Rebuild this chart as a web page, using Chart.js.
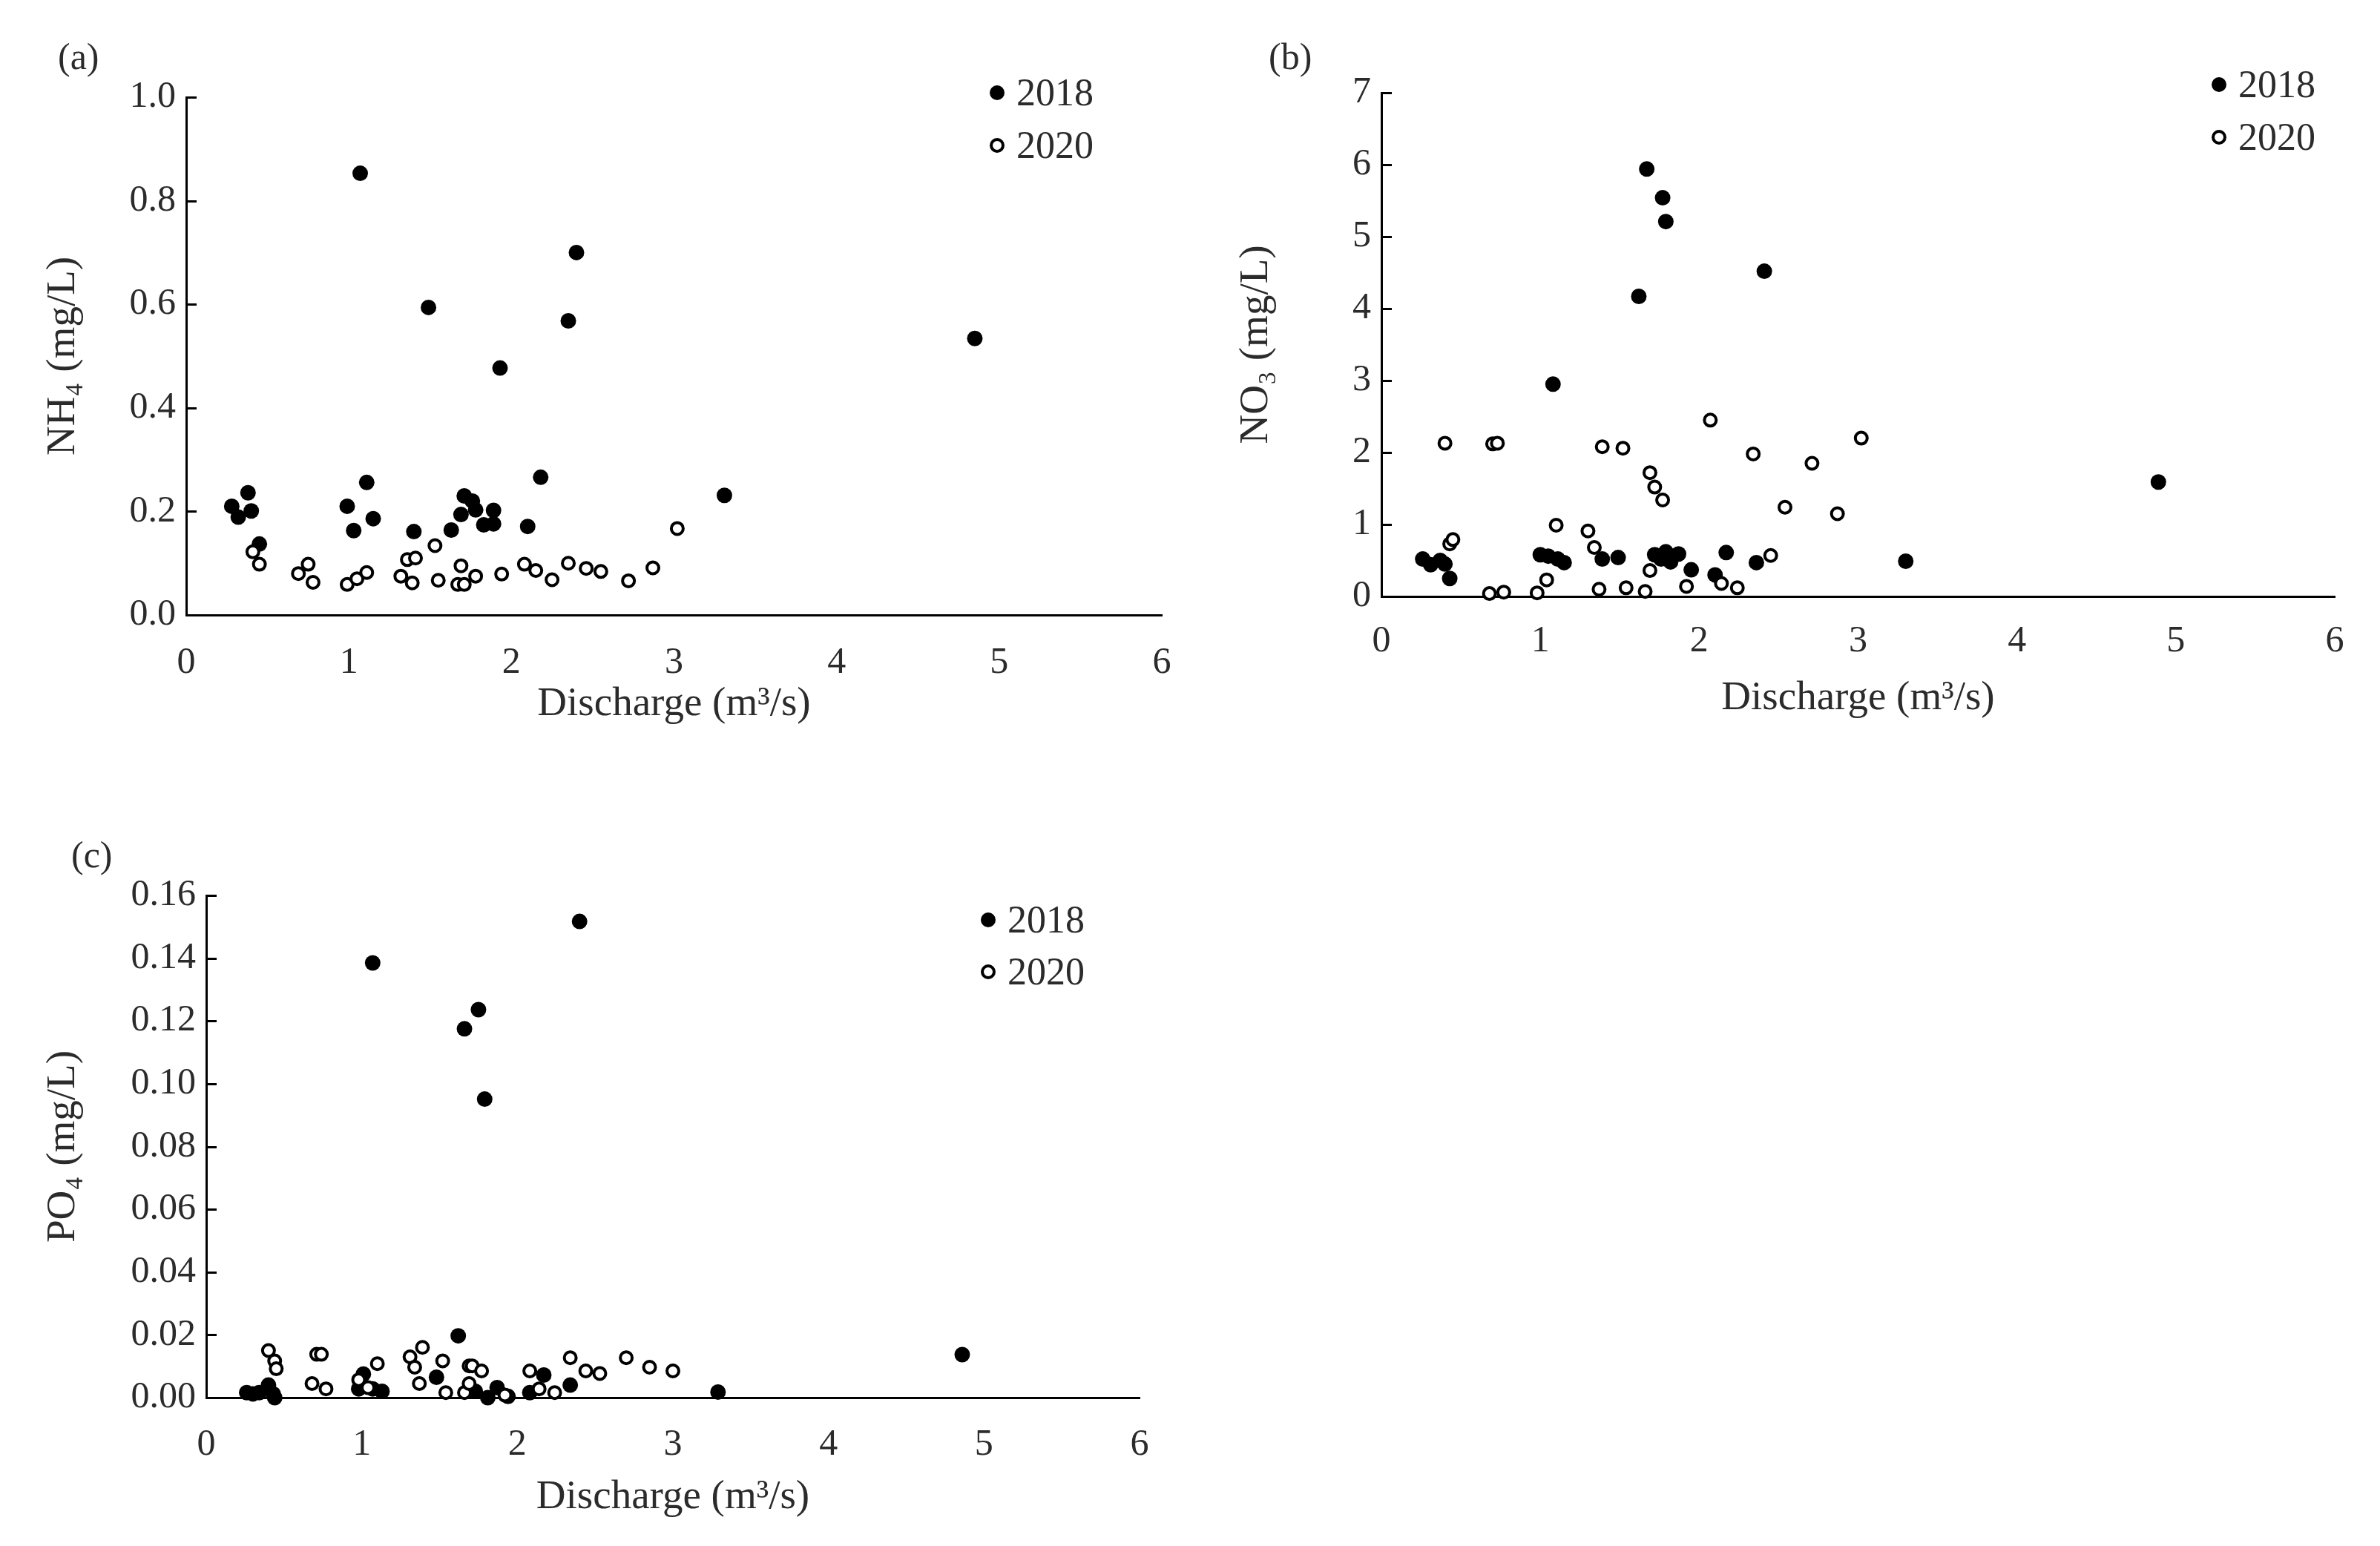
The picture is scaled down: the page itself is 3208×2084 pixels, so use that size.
<!DOCTYPE html>
<html>
<head>
<meta charset="utf-8">
<script src="https://cdn.jsdelivr.net/npm/chart.js@4.4.1/dist/chart.umd.min.js"></script>
<style>
  html, body { margin: 0; padding: 0; background: #fff; }
  body { width: 3208px; height: 2084px; position: relative; overflow: hidden;
         font-family: 'Liberation Serif', serif; color: #2b2b2b; }
  canvas { position: absolute; }
  .rotulo { position: absolute; font-size: 50px; height: 60px; line-height: 60px; margin-top: -30px; white-space: nowrap; }
  .leg { position: absolute; font-size: 52px; height: 60px; line-height: 60px; margin-top: -30px;
         display: flex; align-items: center; white-space: nowrap; }
  .leg i { display: inline-block; box-sizing: border-box; width: 20px; height: 20px; border-radius: 50%; margin-right: 16px; }
  .leg i.cheio { background: #000; }
  .leg i.vazio { background: #fff; border: 4px solid #000; }
</style>
</head>
<body>

<canvas id="graf-nh4" width="1620" height="1030" style="left:0;top:0"></canvas>
<canvas id="graf-no3" width="1558" height="1030" style="left:1650px;top:0"></canvas>
<canvas id="graf-po4" width="1600" height="984" style="left:0;top:1100px"></canvas>

<div class="rotulo" style="left:78px;top:76px">(a)</div>
<div class="rotulo" style="left:1710px;top:76px">(b)</div>
<div class="rotulo" style="left:96px;top:1152px">(c)</div>

<div class="leg" style="left:1334px;top:125px"><i class="cheio"></i>2018</div>
<div class="leg" style="left:1334px;top:196px"><i class="vazio"></i>2020</div>
<div class="leg" style="left:2981px;top:114px"><i class="cheio"></i>2018</div>
<div class="leg" style="left:2981px;top:185px"><i class="vazio"></i>2020</div>
<div class="leg" style="left:1322px;top:1240px"><i class="cheio"></i>2018</div>
<div class="leg" style="left:1322px;top:1310px"><i class="vazio"></i>2020</div>

<script>
// ── Dados ────────────────────────────────────────────────────────
// (a) NH4
const nh4Vazao2018 = [0.28, 0.32, 0.38, 0.40, 0.45, 0.99, 1.03, 1.07, 1.11, 1.15, 1.40, 1.49, 1.63, 1.69,
                      1.71, 1.76, 1.78, 1.83, 1.89, 1.89, 1.93, 2.10, 2.18, 2.35, 2.40, 3.31, 4.85];
const nh4Conc2018  = [0.210, 0.189, 0.236, 0.201, 0.137, 0.210, 0.163, 0.853, 0.256, 0.186, 0.161, 0.594, 0.164, 0.194,
                      0.230, 0.220, 0.203, 0.174, 0.202, 0.176, 0.477, 0.171, 0.266, 0.568, 0.700, 0.231, 0.534];
const nh4Vazao2020 = [0.41, 0.45, 0.69, 0.75, 0.78, 0.99, 1.05, 1.11, 1.32, 1.36, 1.41, 1.39, 1.53, 1.55,
                      1.67, 1.69, 1.71, 1.78, 1.94, 2.08, 2.15, 2.25, 2.35, 2.46, 2.55, 2.72, 2.87, 3.02];
const nh4Conc2020  = [0.122, 0.098, 0.080, 0.098, 0.063, 0.059, 0.070, 0.082, 0.075, 0.107, 0.110, 0.062, 0.134, 0.067,
                      0.059, 0.095, 0.059, 0.075, 0.079, 0.098, 0.086, 0.068, 0.100, 0.090, 0.084, 0.066, 0.091, 0.167];

// (b) NO3
const no3Vazao2018 = [0.26, 0.31, 0.37, 0.40, 0.43, 1.00, 1.05, 1.08, 1.11, 1.15, 1.39, 1.49, 1.62, 1.67,
                      1.72, 1.76, 1.77, 1.79, 1.79, 1.82, 1.87, 1.95, 2.10, 2.17, 2.36, 2.41, 3.30, 4.89];
const no3Conc2018  = [0.52, 0.44, 0.50, 0.45, 0.25, 0.58, 0.56, 2.95, 0.52, 0.47, 0.52, 0.54, 4.17, 5.94,
                      0.58, 0.52, 5.54, 0.62, 5.21, 0.48, 0.59, 0.37, 0.30, 0.61, 0.47, 4.52, 0.49, 1.59];
const no3Vazao2020 = [0.40, 0.43, 0.45, 0.68, 0.70, 0.73, 0.77, 0.98, 1.04, 1.10, 1.30, 1.34, 1.37, 1.39, 1.52, 1.54,
                      1.66, 1.69, 1.69, 1.72, 1.77, 1.92, 2.07, 2.14, 2.24, 2.34, 2.45, 2.54, 2.71, 2.87, 3.02];
const no3Conc2020  = [2.13, 0.73, 0.79, 0.04, 2.12, 2.13, 0.06, 0.05, 0.23, 0.99, 0.91, 0.68, 0.10, 2.08, 2.06, 0.12,
                      0.07, 1.72, 0.36, 1.52, 1.34, 0.14, 2.45, 0.18, 0.12, 1.98, 0.57, 1.24, 1.85, 1.15, 2.20];

// (c) PO4
const po4Vazao2018 = [0.26, 0.30, 0.34, 0.40, 0.43, 0.44, 0.98, 1.01, 1.07, 1.07, 1.13, 1.48, 1.62,
                      1.66, 1.73, 1.75, 1.79, 1.81, 1.87, 1.94, 2.08, 2.17, 2.34, 2.40, 3.29, 4.86];
const po4Conc2018  = [0.0016, 0.0012, 0.0016, 0.0040, 0.0012, 0.0000, 0.0028, 0.0075, 0.0028, 0.1385, 0.0020, 0.0065, 0.0197,
                      0.1175, 0.0020, 0.1236, 0.0951, 0.0000, 0.0032, 0.0004, 0.0016, 0.0072, 0.0040, 0.1517, 0.0018, 0.0137];
const po4Vazao2020 = [0.40, 0.44, 0.45, 0.68, 0.71, 0.74, 0.77, 0.98, 1.04, 1.10, 1.31, 1.34, 1.37, 1.39, 1.52, 1.54,
                      1.66, 1.69, 1.69, 1.71, 1.77, 1.92, 2.08, 2.14, 2.24, 2.34, 2.44, 2.53, 2.70, 2.85, 3.00];
const po4Conc2020  = [0.0150, 0.0117, 0.0092, 0.0045, 0.0138, 0.0138, 0.0028, 0.0057, 0.0032, 0.0108, 0.0130, 0.0097, 0.0045, 0.0160, 0.0117, 0.0016,
                      0.0016, 0.0101, 0.0045, 0.0101, 0.0085, 0.0008, 0.0085, 0.0028, 0.0016, 0.0127, 0.0085, 0.0077, 0.0127, 0.0097, 0.0085];

const vazaoTicks = [0, 1, 2, 3, 4, 5, 6];

// ── Estilo ───────────────────────────────────────────────────────
const FONTE = "'Liberation Serif', serif";
const COR_TEXTO = '#2b2b2b';

function pares(xs, ys) {
  return xs.map((x, i) => ({ x, y: ys[i] }));
}

// marcas do eixo y voltadas para dentro
const marcasInternas = {
  id: 'marcasInternas',
  afterDraw(chart) {
    const { ctx, chartArea, scales: { y } } = chart;
    ctx.save();
    ctx.strokeStyle = '#000';
    ctx.lineWidth = 3;
    y.ticks.forEach(t => {
      const py = Math.round(y.getPixelForValue(t.value)) + 0.5;
      ctx.beginPath();
      ctx.moveTo(chartArea.left, py);
      ctx.lineTo(chartArea.left + 14, py);
      ctx.stroke();
    });
    ctx.restore();
  },
};

function painel(id, q18, c18, q20, c20, cfg) {
  return new Chart(document.getElementById(id), {
    type: 'scatter',
    data: {
      datasets: [
        { label: '2020', data: pares(q20, c20), pointRadius: 8, pointBorderWidth: 4,
          pointBackgroundColor: '#fff', pointBorderColor: '#000', clip: false },
        { label: '2018', data: pares(q18, c18), pointRadius: 10.5, pointBorderWidth: 0,
          pointBackgroundColor: '#000', pointBorderColor: '#000', clip: false },
      ],
    },
    options: {
      responsive: false,
      animation: false,
      events: [],
      layout: { padding: { top: cfg.top, right: cfg.right, left: 0, bottom: 0 } },
      plugins: { legend: { display: false }, tooltip: { enabled: false } },
      scales: {
        x: {
          type: 'linear', min: 0, max: 6,
          afterBuildTicks: s => { s.ticks = vazaoTicks.map(v => ({ value: v })); },
          ticks: { color: COR_TEXTO, font: { family: FONTE, size: 50, lineHeight: 1.2 }, padding: cfg.xTickPad,
                   callback: v => String(v) },
          grid: { display: false, drawTicks: false },
          border: { color: '#000', width: 3 },
          title: { display: true, text: 'Discharge (m³/s)', color: COR_TEXTO,
                   font: { family: FONTE, size: 55, lineHeight: 1.2 }, padding: { top: 0, bottom: cfg.xTitlePad } },
          afterFit: s => { s.height = cfg.xH; },
        },
        y: {
          type: 'linear', min: 0, max: cfg.ymax,
          afterBuildTicks: s => { s.ticks = cfg.yTicks.map(v => ({ value: v })); },
          ticks: { color: COR_TEXTO, font: { family: FONTE, size: 50, lineHeight: 1.2 }, padding: 14,
                   callback: v => v.toFixed(cfg.dec) },
          grid: { display: false, drawTicks: false },
          border: { color: '#000', width: 3 },
          title: { display: true, text: cfg.titulo, color: COR_TEXTO,
                   font: { family: FONTE, size: 55, lineHeight: 1.2 }, padding: { top: cfg.yTitlePad, bottom: 0 } },
          afterFit: s => { s.width = cfg.yW; },
        },
      },
    },
    plugins: [marcasInternas],
  });
}

painel('graf-nh4', nh4Vazao2018, nh4Conc2018, nh4Vazao2020, nh4Conc2020, {
  titulo: 'NH₄ (mg/L)', ymax: 1.0, yTicks: [0, 0.2, 0.4, 0.6, 0.8, 1.0], dec: 1,
  top: 131, right: 54, yW: 251, xH: 201, xTickPad: 35, xTitlePad: 47, yTitlePad: 53,
});

painel('graf-no3', no3Vazao2018, no3Conc2018, no3Vazao2020, no3Conc2020, {
  titulo: 'NO₃ (mg/L)', ymax: 7, yTicks: [0, 1, 2, 3, 4, 5, 6, 7], dec: 0,
  top: 125, right: 61, yW: 212, xH: 226, xTickPad: 31, xTitlePad: 55, yTitlePad: 11,
});

painel('graf-po4', po4Vazao2018, po4Conc2018, po4Vazao2020, po4Conc2020, {
  titulo: 'PO₄ (mg/L)', ymax: 0.16, yTicks: [0, 0.02, 0.04, 0.06, 0.08, 0.10, 0.12, 0.14, 0.16], dec: 2,
  top: 107, right: 64, yW: 278, xH: 200, xTickPad: 34, xTitlePad: 32, yTitlePad: 53,
});
</script>
</body>
</html>
